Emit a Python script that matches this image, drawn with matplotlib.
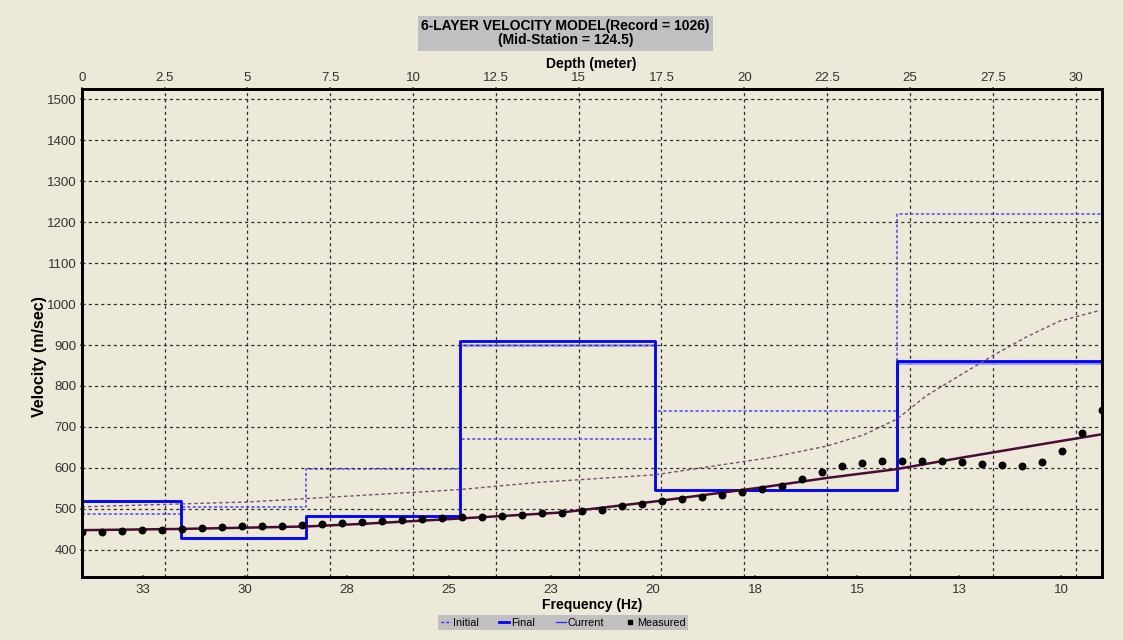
import numpy as np
import matplotlib
matplotlib.use("Agg")
import matplotlib.pyplot as plt
from matplotlib.lines import Line2D
from matplotlib.ticker import MultipleLocator, FuncFormatter

# layer model (depth in m, velocity in m/s)
layer_tops = [0, 3.0, 6.76, 11.42, 17.3, 24.62]
model_bottom = 31.0
initial_vs = [487, 505, 597, 670, 740, 1220]
final_vs = [520, 428, 483, 910, 545, 860]
current_vs = [520, 428, 483, 900, 545, 856]

# measured dispersion curve
meas_freq = [34.00, 33.51, 33.02, 32.53, 32.04, 31.55, 31.06, 30.57, 30.08, 29.59,
             29.10, 28.61, 28.12, 27.63, 27.14, 26.65, 26.16, 25.67, 25.18, 24.69,
             24.20, 23.71, 23.22, 22.73, 22.24, 21.75, 21.25, 20.76, 20.27, 19.78,
             19.29, 18.80, 18.31, 17.82, 17.33, 16.84, 16.35, 15.86, 15.37, 14.88,
             14.39, 13.90, 13.41, 12.92, 12.43, 11.94, 11.45, 10.96, 10.47, 9.98,
             9.49, 9.00]
meas_vel = [443, 443, 446, 448, 449, 451, 453, 455, 457, 457,
            459, 461, 463, 466, 467, 471, 473, 475, 477, 479,
            481, 483, 485, 489, 491, 494, 498, 506, 512, 518,
            524, 529, 535, 540, 548, 557, 573, 590, 604, 612,
            616, 616, 616, 616, 614, 610, 606, 604, 614, 642,
            686, 741]

# model dispersion curves
fin_freq = [34, 31.57, 28.5, 27.2, 25.17, 22.26, 19.96, 17.36, 15.77, 14.03, 12.49, 10.04, 9.0]
fin_vel = [448, 451, 457, 463, 474, 491, 518, 552, 575, 597, 624, 665, 682]
ini_freq = [34, 29.88, 24.74, 22.77, 19.96, 17.14, 15.75, 14.85, 14.02, 13.30, 12.49, 11.67, 10.86, 10.04, 9.06]
ini_vel = [505, 517, 547, 565, 583, 625, 653, 680, 719, 776, 825, 874, 919, 958, 984]

bg = '#ece9d8'
plt.rcParams['font.family'] = ['Liberation Sans', 'DejaVu Sans']

fig = plt.figure(figsize=(11.23, 6.4), dpi=100, facecolor=bg)
ax = fig.add_axes([0.07275, 0.098, 0.9083, 0.763])
ax_top = ax.twiny()
ax_top.set_zorder(ax.get_zorder() - 1)
ax.patch.set_visible(False)
ax_top.patch.set_facecolor(bg)

grid_kw = dict(color='#303030', linestyle=(0, (2.5, 2.5)), linewidth=0.9)

# frequency axis (bottom)
ax.set_xlim(34, 9)
ax.set_ylim(333, 1525)
ax.xaxis.set_major_locator(MultipleLocator(2.5))
ax.xaxis.set_major_formatter(FuncFormatter(lambda v, p: f"{int(np.floor(v + 0.5))}"))
ax.yaxis.set_major_locator(MultipleLocator(100))
ax.grid(axis='y', **grid_kw)
ax.set_axisbelow(True)

# depth axis (top)
ax_top.set_xlim(0, 30.79)
ax_top.xaxis.set_major_locator(MultipleLocator(2.5))
ax_top.xaxis.set_major_formatter(FuncFormatter(lambda v, p: f"{v:g}"))
ax_top.grid(axis='x', **grid_kw)

def steps(vs):
    return layer_tops + [model_bottom], vs + [vs[-1]]

x, y = steps(initial_vs)
ax_top.step(x, y, where='post', color='#4848ff', lw=1.1, ls=(0, (2, 1.5)))
x, y = steps(current_vs)
ax_top.step(x, y, where='post', color='#8c8cff', lw=1.8)
x, y = steps(final_vs)
ax_top.step(x, y, where='post', color='#0000ff', lw=2.0)

ax.plot(ini_freq, ini_vel, color='#7a4a78', lw=1.0, ls=(0, (2.5, 2)))
ax.plot(fin_freq, fin_vel, color='#4a0a3a', lw=1.8)
ax.scatter(meas_freq, meas_vel, s=22, marker='o', color='black', zorder=5)

for a in (ax, ax_top):
    for s in a.spines.values():
        s.set_linewidth(2)
        s.set_color('black')
    a.tick_params(colors='#7a7a7a', labelcolor='#333333', labelsize=9.5,
                  length=3, width=1.5, direction='inout', pad=2)
ax.tick_params(axis='x', pad=3)

ax.set_ylabel('Velocity (m/sec)', fontsize=11.5, fontweight='bold')
ax.yaxis.set_label_coords(-0.034, 0.452)
ax.set_xlabel('Frequency (Hz)', fontsize=10, fontweight='bold', labelpad=2)
ax_top.set_xlabel('Depth (meter)', fontsize=10, fontweight='bold', labelpad=3)

fig.text(0.5035, 0.948, '6-LAYER VELOCITY MODEL(Record = 1026)\n(Mid-Station = 124.5)',
         ha='center', va='center', fontsize=10, fontweight='bold', linespacing=1.0,
         bbox=dict(facecolor='#c0c0c0', edgecolor='none', boxstyle='square,pad=0.25'))

handles = [Line2D([], [], color='#3030ff', lw=1, ls=(0, (2, 1.5))),
           Line2D([], [], color='#0000ff', lw=2),
           Line2D([], [], color='#3030ff', lw=1),
           Line2D([], [], color='black', marker='s', ls='none', markersize=3.5)]
leg = fig.legend(handles, ['Initial', 'Final', 'Current', 'Measured'], loc='center',
                 bbox_to_anchor=(0.5015, 0.0272), ncol=4, fontsize=7.8, frameon=True,
                 handlelength=0.9, handletextpad=0.2, columnspacing=1.9,
                 borderpad=0.25, fancybox=False)
leg.get_frame().set_facecolor('#c0c0c0')
leg.get_frame().set_edgecolor('none')
leg.get_frame().set_alpha(1)

fig.savefig('out.png', dpi=100, facecolor=bg)
